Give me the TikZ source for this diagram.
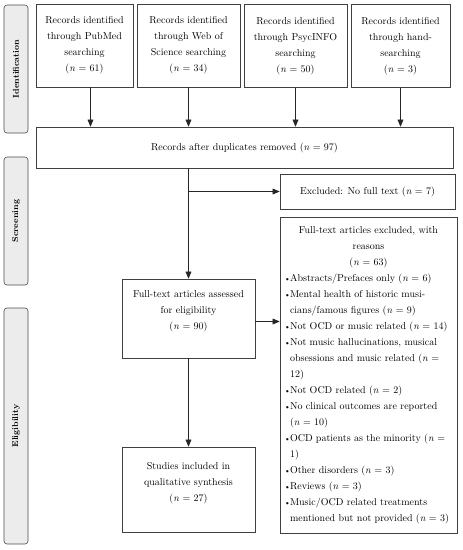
\documentclass[tikz,border=0pt]{standalone}
\usepackage{tikz}
\usetikzlibrary{shapes,arrows}
\usetikzlibrary{positioning}
\tikzstyle{box} = [rectangle, draw=black!75, line width=0.6pt, inner sep=0pt,
    font=\fontsize{10}{16}\selectfont]
\tikzstyle{block} = [box, align=center]
\tikzstyle{stage} = [rectangle, draw=black!70, fill=gray!15, rounded corners=3pt,
    line width=0.6pt, minimum height=24pt, rotate=90,
    font=\bfseries\fontsize{8.5}{10}\selectfont]
\tikzstyle{line} = [draw=black!85, line width=0.6pt, -triangle 45]
\newcommand{\itm}{\makebox[6pt][l]{\footnotesize\textbullet}}
\newcommand{\cont}{\hspace*{6pt}}

\begin{document}
\begin{tikzpicture}[x=1pt, y=-1pt]
  \useasboundingbox (0,0) rectangle (463,550);
  % Stage labels on the left
  \node [stage, minimum width=128pt] (ident) at (16,69) {Identification};
  \node [stage, minimum width=128pt] (screen) at (16,221) {Screening};
  \node [stage, minimum width=236pt] (elig) at (16,426) {Eligibility};

  % Place nodes
  \node [block, minimum width=97pt, minimum height=83pt] (pubmed) at (84.5,45.5)
    {Records identified\\through PubMed\\searching\\(\textit{n} = 61)};
  \node [block, minimum width=103pt, minimum height=83pt] (wos) at (188.5,45.5)
    {Records identified\\through Web of\\Science searching\\(\textit{n} = 34)};
  \node [block, minimum width=103pt, minimum height=83pt] (psyc) at (295.5,46)
    {Records identified\\through PsycINFO\\searching\\(\textit{n} = 50)};
  \node [block, minimum width=99pt, minimum height=83pt] (hand) at (400.5,46)
    {Records identified\\through hand-\\searching\\(\textit{n} = 3)};
  \node [block, minimum width=417pt, minimum height=41pt] (dup) at (244.5,147.5)
    {Records after duplicates removed (\textit{n} = 97)};
  \node [block, minimum width=175pt, minimum height=35pt] (nofull) at (367.5,191.5)
    {Excluded: No full text (\textit{n} = 7)};
  \node [block, minimum width=133pt, minimum height=79pt] (assessed) at (188.5,318.5)
    {Full-text articles assessed\\for eligibility\\(\textit{n} = 90)\\ \mbox{}};
  \node [block, minimum width=133pt, minimum height=85pt] (studies) at (188.5,489.5)
    {Studies included in\\qualitative synthesis\\(\textit{n} = 27)\\ \mbox{}};
  \node [box, text width=169pt, inner xsep=4pt, minimum height=316pt] (exclft) at (368.5,375)
    {{\centering Full-text articles excluded, with\\reasons\\(\textit{n} = 63)\par}
     \raggedright
     \itm Abstracts/Prefaces only (\textit{n} = 6)\\
     \itm Mental health of historic musi-\\
     \cont cians/famous figures (\textit{n} = 9)\\
     \itm Not OCD or music related (\textit{n} = 14)\\
     \itm Not music hallucinations, musical\\
     \cont obsessions and music related (\textit{n} =\\
     \cont 12)\\
     \itm Not OCD related (\textit{n} = 2)\\
     \itm No clinical outcomes are reported\\
     \cont (\textit{n} = 10)\\
     \itm OCD patients as the minority (\textit{n} =\\
     \cont 1)\\
     \itm Other disorders (\textit{n} = 3)\\
     \itm Reviews (\textit{n} = 3)\\
     \itm Music/OCD related treatments\\
     \cont mentioned but not provided (\textit{n} = 3)\par};

  % Draw edges
  \path [line] ([xshift=6pt]pubmed.south) -- ([xshift=6pt]pubmed.south |- dup.north);
  \path [line] (wos.south) -- (wos.south |- dup.north);
  \path [line] (psyc.south) -- (psyc.south |- dup.north);
  \path [line] (hand.south) -- (hand.south |- dup.north);
  \path [line] (assessed.north |- dup.south) -- (assessed.north);
  \path [line] (assessed.north |- nofull.west) -- (nofull.west);
  \path [line] ([yshift=-3pt]assessed.east) -- ([yshift=-3pt]assessed.east -| exclft.west);
  \path [line] (assessed.south) -- (studies.north);
\end{tikzpicture}
\end{document}
